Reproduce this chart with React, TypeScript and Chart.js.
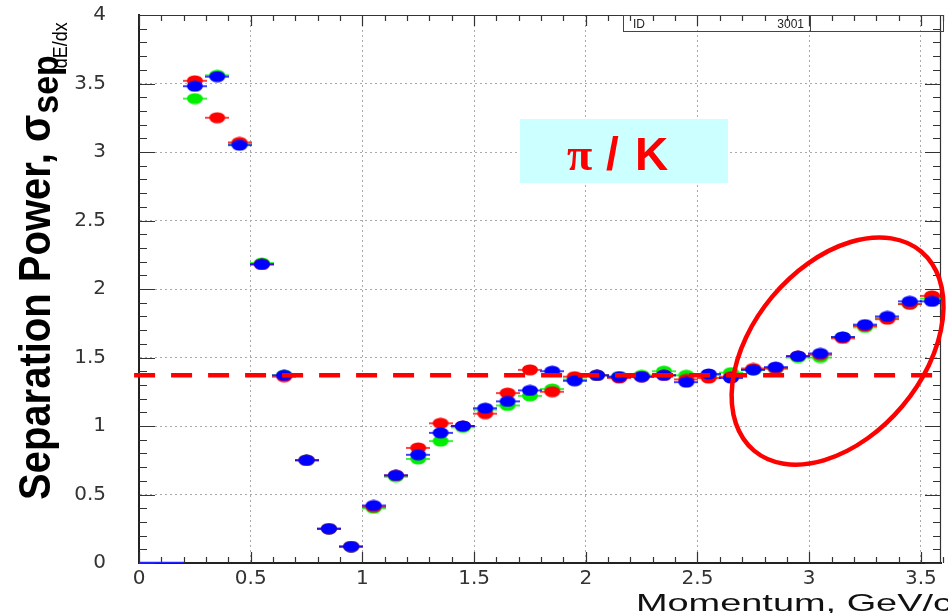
import React, { useEffect, useRef } from 'react';
import { Chart, registerables } from 'chart.js';

Chart.register(...registerables);

// ---- data ----
const momentum = [
  0.25, 0.35, 0.45, 0.55, 0.65, 0.75, 0.85, 0.95, 1.05, 1.15, 1.25, 1.35,
  1.45, 1.55, 1.65, 1.75, 1.85, 1.95, 2.05, 2.15, 2.25, 2.35, 2.45, 2.55,
  2.65, 2.75, 2.85, 2.95, 3.05, 3.15, 3.25, 3.35, 3.45, 3.55,
];
const sepRed = [
  3.52, 3.25, 3.07, 2.18, 1.36, 0.75, 0.25, 0.12, 0.41, 0.64, 0.84, 1.02,
  1.0, 1.09, 1.24, 1.41, 1.25, 1.36, 1.37, 1.35, 1.36, 1.37, 1.34, 1.35,
  1.36, 1.42, 1.42, 1.51, 1.52, 1.64, 1.73, 1.78, 1.89, 1.95,
];
const sepBlue = [
  3.48, 3.55, 3.05, 2.18, 1.37, 0.75, 0.25, 0.12, 0.42, 0.64, 0.79, 0.95,
  1.0, 1.13, 1.18, 1.26, 1.4, 1.33, 1.37, 1.36, 1.36, 1.37, 1.32, 1.38,
  1.35, 1.41, 1.43, 1.51, 1.53, 1.65, 1.74, 1.8, 1.91, 1.91,
];
const sepGreen = [
  3.39, 3.56, 3.06, 2.19, 1.37, 0.75, 0.25, 0.12, 0.4, 0.63, 0.76, 0.89,
  0.99, 1.12, 1.15, 1.22, 1.27, 1.34, 1.37, 1.36, 1.37, 1.4, 1.37, 1.37,
  1.39, 1.41, 1.42, 1.5, 1.5, 1.65, 1.72, 1.79, 1.89, 1.93,
];
const referenceLevel = 1.37;
const referenceRange = [-0.022, 3.57];
const emptyBinRange = [0, 0.2];
const xRange = [0, 3.59];
const yRange = [0, 4];
const majorStep = 0.5;
const minorStep = 0.1;
const highlightCenter = [3.127, 1.547];
const statLabels = ['ID', '3001'];
const particleLabel = ['π', '/', 'K'];
const xTitle = 'Momentum, GeV/c';
const yTitleMain = 'Separation Power, σ';
const yTitleSub = 'sep';
const yTitleSubSub = 'dE/dx';

function makeMarker(color: string): HTMLCanvasElement {
  const c = document.createElement('canvas');
  c.width = 24;
  c.height = 12;
  const g = c.getContext('2d')!;
  g.strokeStyle = color;
  g.lineWidth = 1.5;
  g.beginPath();
  g.moveTo(0, 6);
  g.lineTo(24, 6);
  g.stroke();
  g.fillStyle = color;
  g.beginPath();
  g.ellipse(12, 6, 8, 5.5, 0, 0, Math.PI * 2);
  g.fill();
  return c;
}

const fmt = (v: any) => String(Number(Number(v).toFixed(2)));

const decorPlugin = {
  id: 'rootDecor',
  beforeDatasetsDraw(chart: any) {
    const ctx = chart.ctx;
    const { left, right, top, bottom } = chart.chartArea;
    const xs = chart.scales.x;
    const ys = chart.scales.y;
    ctx.save();
    ctx.strokeStyle = '#333';
    ctx.lineWidth = 1.2;
    ctx.beginPath();
    ctx.moveTo(left, top + 0.5);
    ctx.lineTo(right - 0.5, top + 0.5);
    ctx.lineTo(right - 0.5, bottom);
    ctx.stroke();
    const nx = Math.round(xRange[1] / minorStep);
    for (let i = 0; i <= nx; i++) {
      const px = Math.round(xs.getPixelForValue(i * minorStep)) + 0.5;
      const len = i % 5 === 0 ? 11 : 6;
      ctx.beginPath();
      ctx.moveTo(px, bottom);
      ctx.lineTo(px, bottom - len);
      ctx.moveTo(px, top);
      ctx.lineTo(px, top + len);
      ctx.stroke();
    }
    const ny = Math.round(yRange[1] / minorStep);
    for (let i = 0; i <= ny; i++) {
      const py = Math.round(ys.getPixelForValue(i * minorStep)) + 0.5;
      const len = i % 5 === 0 ? 16 : 8;
      ctx.beginPath();
      ctx.moveTo(left, py);
      ctx.lineTo(left + len, py);
      ctx.moveTo(right, py);
      ctx.lineTo(right - len, py);
      ctx.stroke();
    }
    ctx.restore();
  },
  afterDatasetsDraw(chart: any) {
    const ctx = chart.ctx;
    const xs = chart.scales.x;
    const ys = chart.scales.y;
    ctx.save();
    ctx.strokeStyle = '#ff0000';
    ctx.lineWidth = 4.5;
    ctx.beginPath();
    ctx.ellipse(
      xs.getPixelForValue(highlightCenter[0]),
      ys.getPixelForValue(highlightCenter[1]),
      130,
      85,
      (-50 * Math.PI) / 180,
      0,
      Math.PI * 2
    );
    ctx.stroke();

    ctx.fillStyle = '#ccffff';
    ctx.fillRect(520, 119, 208, 64);
    ctx.fillStyle = '#ff0000';
    ctx.textBaseline = 'alphabetic';
    ctx.textAlign = 'left';
    ctx.font = 'bold 46px "Liberation Serif"';
    ctx.fillText(particleLabel[0], 567, 170);
    ctx.font = 'bold 46px "Liberation Sans"';
    ctx.fillText(particleLabel[1], 606, 170);
    ctx.fillText(particleLabel[2], 635, 170);

    ctx.strokeStyle = '#444';
    ctx.lineWidth = 1;
    ctx.strokeRect(623.5, 15.5, 320, 16);
    ctx.beginPath();
    ctx.moveTo(810.5, 15.5);
    ctx.lineTo(810.5, 31.5);
    ctx.stroke();
    ctx.fillStyle = '#222';
    ctx.font = '12px "Liberation Sans"';
    ctx.fillText(statLabels[0], 633, 28);
    ctx.textAlign = 'right';
    ctx.fillText(statLabels[1], 804, 28);
    ctx.restore();
  },
  afterDraw(chart: any) {
    const ctx = chart.ctx;
    ctx.save();
    ctx.fillStyle = '#111';
    ctx.textBaseline = 'alphabetic';
    ctx.textAlign = 'right';
    ctx.font = '24px "Liberation Sans"';
    ctx.translate(952, 611);
    ctx.scale(1.58, 1);
    ctx.fillText(xTitle, 0, 0);
    ctx.restore();

    ctx.save();
    ctx.fillStyle = '#000';
    ctx.textBaseline = 'alphabetic';
    ctx.textAlign = 'left';
    const s = 1.1;
    ctx.translate(50, 500);
    ctx.rotate(-Math.PI / 2);
    ctx.scale(1, s);
    ctx.font = 'bold 40px "Liberation Sans"';
    ctx.fillText(yTitleMain, 0, 0);
    const w1 = ctx.measureText(yTitleMain).width;
    ctx.font = 'bold 34px "Liberation Sans"';
    ctx.fillText(yTitleSub, w1 + 1, 8 / s);
    const w2 = ctx.measureText(yTitleSub).width;
    ctx.font = '18px "Liberation Sans"';
    ctx.fillText(yTitleSubSub, w1 + w2 - 12, 17 / s);
    ctx.restore();
  },
};

export default function App() {
  const ref = useRef<HTMLCanvasElement | null>(null);
  useEffect(() => {
    if (!ref.current) return;
    const pts = (ys: number[]) => momentum.map((x, i) => ({ x, y: ys[i] }));
    const chart = new Chart(ref.current, {
      type: 'scatter',
      data: {
        datasets: [
          {
            type: 'line',
            label: 'reference',
            data: referenceRange.map((x) => ({ x, y: referenceLevel })),
            borderColor: '#ff0000',
            borderWidth: 4.5,
            borderDash: [21, 16],
            pointRadius: 0,
            showLine: true,
            fill: false,
            clip: 12,
            order: 0,
          } as any,
          {
            label: 'blue',
            data: pts(sepBlue),
            pointStyle: makeMarker('#0000ff'),
            pointRadius: 6,
            order: 1,
          },
          {
            label: 'red',
            data: pts(sepRed),
            pointStyle: makeMarker('#ff0000'),
            pointRadius: 6,
            order: 2,
          },
          {
            label: 'green',
            data: pts(sepGreen),
            pointStyle: makeMarker('#00ee00'),
            pointRadius: 6,
            order: 3,
          },
          {
            type: 'line',
            label: 'empty',
            data: emptyBinRange.map((x) => ({ x, y: 0 })),
            borderColor: '#2222ff',
            borderWidth: 2.5,
            pointRadius: 0,
            showLine: true,
            fill: false,
            order: 4,
          } as any,
        ],
      },
      options: {
        animation: false,
        responsive: false,
        layout: { padding: { top: 15, right: 3, left: 0, bottom: 0 } },
        plugins: { legend: { display: false }, tooltip: { enabled: false } },
        scales: {
          x: {
            type: 'linear',
            min: xRange[0],
            max: xRange[1],
            afterFit: (s: any) => {
              s.height = 50;
              s.paddingLeft = 0;
              s.paddingRight = 0;
            },
            ticks: {
              stepSize: majorStep,
              includeBounds: false,
              padding: 4,
              color: '#333',
              font: { family: 'DejaVu Sans', size: 20 },
              callback: fmt,
            },
            grid: { color: '#aaa', lineWidth: 1, drawTicks: false },
            border: { display: true, color: '#222', width: 2, dash: [2, 3] },
          },
          y: {
            type: 'linear',
            min: yRange[0],
            max: yRange[1],
            afterFit: (s: any) => {
              s.width = 139;
              s.paddingTop = 0;
              s.paddingBottom = 0;
            },
            ticks: {
              stepSize: majorStep,
              padding: 33,
              color: '#333',
              font: { family: 'DejaVu Sans', size: 20 },
              callback: fmt,
            },
            grid: { color: '#aaa', lineWidth: 1, drawTicks: false },
            border: { display: true, color: '#222', width: 2, dash: [2, 3] },
          },
        },
      },
      plugins: [decorPlugin],
    });
    return () => chart.destroy();
  }, []);
  return (
    <div style={{ position: 'fixed', left: 0, top: 0, width: 948, height: 613, background: '#fff' }}>
      <canvas ref={ref} width={948} height={613} />
    </div>
  );
}
